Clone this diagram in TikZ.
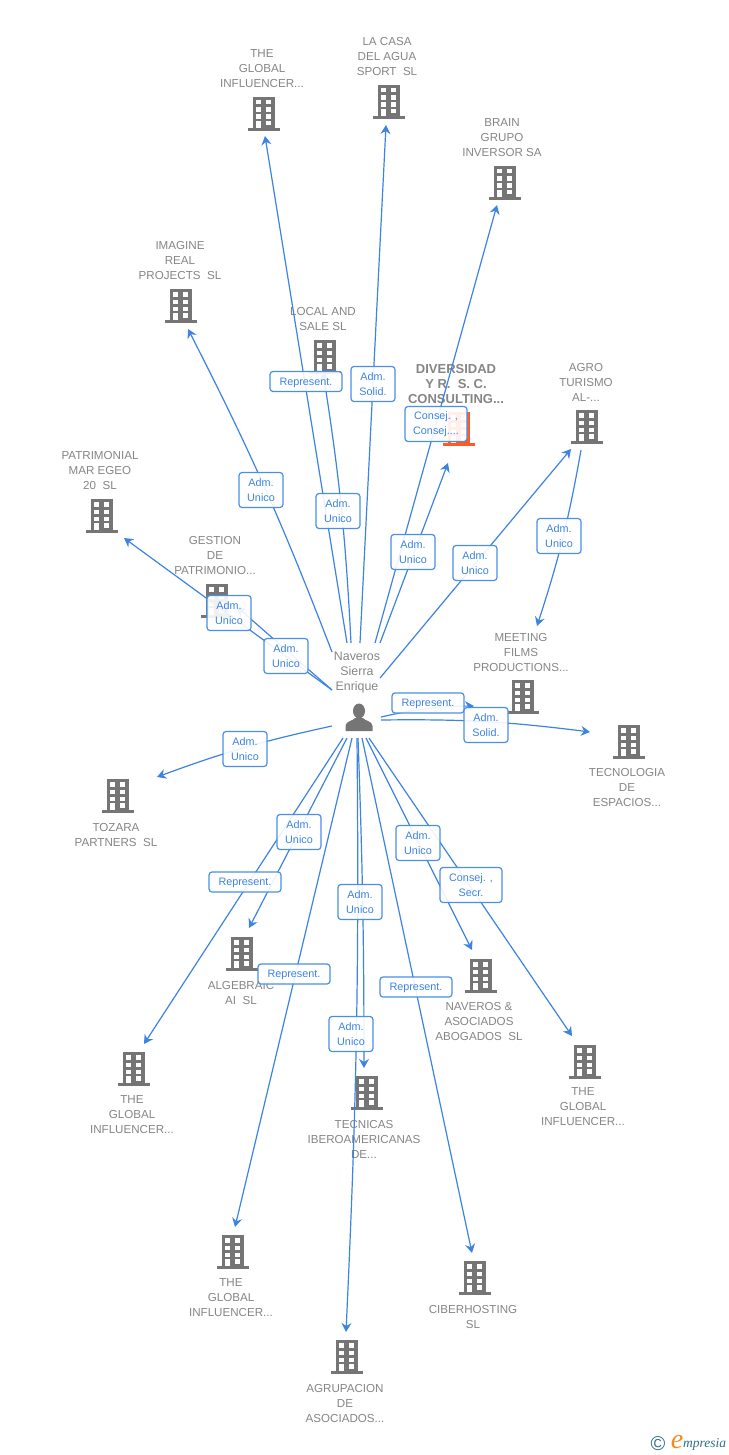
\documentclass[tikz,border=0pt]{standalone}
\usepackage{fontspec}
\setmainfont{Liberation Sans}
\newfontfamily\logofont{Liberation Serif}
\usetikzlibrary{graphs}
\usetikzlibrary{arrows.meta}
\definecolor{bldgrey}{HTML}{757575}
\definecolor{bldorange}{HTML}{FF5A26}
\definecolor{txtgrey}{HTML}{858585}
\definecolor{lnkblue}{HTML}{3C83E2}
\definecolor{boxblue}{HTML}{4A8FE6}
\definecolor{logoteal}{HTML}{2F6F85}
\definecolor{logoorange}{HTML}{F28C1E}
\tikzset{
    lbl/.style={align=center, inner sep=0pt, yshift=-1pt, text=txtgrey, font=\fontsize{11.6}{15}\selectfont},
    lblmain/.style={lbl, font=\fontsize{13}{15}\bfseries\selectfont},
    lblperson/.style={lbl, font=\fontsize{12.4}{15}\selectfont},
    lnk/.style={draw=lnkblue, line width=1.2pt},
    adm/.style={draw=boxblue, line width=1.2pt, rounded corners=3pt, fill=white, fill opacity=0.9,
        text opacity=1, text=lnkblue, align=center, inner sep=0pt, minimum width=44pt, minimum height=35pt,
        font=\fontsize{10.8}{15}\selectfont},
    rep/.style={adm, minimum width=72pt, minimum height=20pt, text depth=0pt},
    cons/.style={adm, minimum width=62pt},
    pics/building/.style={code={
        \fill[#1] (-11,-17) rectangle (11,15);
        \fill[#1] (-16,14) rectangle (16,17);
        \foreach \yy in {-14,-6.5,0.5} {
            \fill[white] (-8,\yy) rectangle (-3,\yy+4.5);
            \fill[white] (2,\yy) rectangle (7,\yy+4.5);
        }
        \fill[white] (-8,7) rectangle (-3,14);
        \fill[white] (2,7) rectangle (7,11.5);
    }},
    pics/person/.style={code={
        \fill[bldgrey] (0,-6) ellipse (6 and 7.5);
        \fill[bldgrey] (-13.5,14) -- (-13.5,9) .. controls (-13.5,4) and (-6,4) .. (-4,1)
            -- (4,1) .. controls (6,4) and (13.5,4) .. (13.5,9) -- (13.5,14) -- cycle;
    }},
}
\begin{document}
\begin{tikzpicture}[x=1pt, y=-1pt, >={Stealth[length=9pt, width=10pt, inset=3pt]}]
    \useasboundingbox (0,0) rectangle (728,1455);

    \pic (ico_gl_top) at (264,114) {building=bldgrey};
    \pic (ico_casa) at (389,102) {building=bldgrey};
    \pic (ico_brain) at (505,183) {building=bldgrey};
    \pic (ico_imag) at (181,306) {building=bldgrey};
    \pic (ico_local) at (325,357) {building=bldgrey};
    \pic (ico_div) at (458.5,429) {building=bldorange};
    \pic (ico_agro) at (587,427) {building=bldgrey};
    \pic (ico_patr) at (102,516) {building=bldgrey};
    \pic (ico_gest) at (217,601) {building=bldgrey};
    \pic (ico_meet) at (523,697) {building=bldgrey};
    \pic (ico_tecno) at (629,742) {building=bldgrey};
    \pic (ico_toz) at (118,796) {building=bldgrey};
    \pic (ico_alg) at (242,954) {building=bldgrey};
    \pic (ico_gl_left) at (134,1069) {building=bldgrey};
    \pic (ico_tec) at (367,1093) {building=bldgrey};
    \pic (ico_nav) at (481,976) {building=bldgrey};
    \pic (ico_gl_right) at (585,1062) {building=bldgrey};
    \pic (ico_gl_bot) at (233,1252) {building=bldgrey};
    \pic (ico_cib) at (475,1278) {building=bldgrey};
    \pic (ico_agrup) at (347,1357) {building=bldgrey};
    \pic (ico_nav_p) at (359,717) {person};

    \node[lbl] (t_gl_top) at (262,68) {THE\\GLOBAL\\INFLUENCER...};
    \node[lbl] (t_casa) at (387,56) {LA CASA\\DEL AGUA\\SPORT\ \ SL};
    \node[lbl] (t_brain) at (502,137) {BRAIN\\GRUPO\\INVERSOR SA};
    \node[lbl] (t_imag) at (180,260) {IMAGINE\\REAL\\PROJECTS\ \ SL};
    \node[lbl] (t_local) at (323,318.5) {LOCAL AND\\SALE SL};
    \node[lblmain] (t_div) at (456,383) {DIVERSIDAD\\Y R.\ \ S. C.\\CONSULTING...};
    \node[lbl] (t_agro) at (586,381) {AGRO\\TURISMO\\AL-...};
    \node[lbl] (t_patr) at (100,470) {PATRIMONIAL\\MAR EGEO\\20\ \ SL};
    \node[lbl] (t_gest) at (215,555) {GESTION\\DE\\PATRIMONIO...};
    \node[lbl] (t_meet) at (521,652) {MEETING\\FILMS\\PRODUCTIONS...};
    \node[lbl] (t_tecno) at (627,786) {TECNOLOGIA\\DE\\ESPACIOS...};
    \node[lbl] (t_toz) at (116,833.5) {TOZARA\\PARTNERS\ \ SL};
    \node[lbl] (t_alg) at (241,991.5) {ALGEBRAIC\\AI\ \ SL};
    \node[lbl] (t_gl_left) at (132,1114) {THE\\GLOBAL\\INFLUENCER...};
    \node[lbl] (t_tec) at (364,1138) {TECNICAS\\IBEROAMERICANAS\\DE...};
    \node[lbl] (t_nav) at (479,1020) {NAVEROS \&\\ASOCIADOS\\ABOGADOS\ \ SL};
    \node[lbl] (t_gl_right) at (583,1106) {THE\\GLOBAL\\INFLUENCER...};
    \node[lbl] (t_gl_bot) at (231,1297) {THE\\GLOBAL\\INFLUENCER...};
    \node[lbl] (t_cib) at (473,1315.5) {CIBERHOSTING\\SL};
    \node[lbl] (t_agrup) at (345,1402) {AGRUPACION\\DE\\ASOCIADOS...};
    \node[lblperson] (t_nav_p) at (357,671.5) {Naveros\\Sierra\\Enrique};

    \coordinate (s_gl_top) at (347,643);
    \coordinate (e_gl_top) at (265,136);
    \coordinate (s_local) at (351,643);
    \coordinate (e_local) at (323,372);
    \coordinate (s_casa) at (360,643);
    \coordinate (e_casa) at (386,125);
    \coordinate (s_brain) at (375,643);
    \coordinate (e_brain) at (497,205);
    \coordinate (s_div) at (380,643);
    \coordinate (e_div) at (448,463);
    \coordinate (s_agro) at (380,678);
    \coordinate (e_agro) at (571,449);
    \coordinate (s_meet_a) at (581,450);
    \coordinate (e_meet_a) at (537,626);
    \coordinate (s_imag) at (332,652);
    \coordinate (e_imag) at (188,329);
    \coordinate (s_patr) at (332,690);
    \coordinate (e_patr) at (124,538);
    \coordinate (e_gest) at (237,607);
    \coordinate (s_meet) at (381,717);
    \coordinate (e_meet) at (474,706);
    \coordinate (s_tecno) at (381,720);
    \coordinate (e_tecno) at (590,732);
    \coordinate (s_toz) at (332,726);
    \coordinate (e_toz) at (157,777);
    \coordinate (s_gl_left) at (343,738);
    \coordinate (e_gl_left) at (144,1044);
    \coordinate (s_alg) at (347,738);
    \coordinate (e_alg) at (249,928);
    \coordinate (s_gl_bot) at (352,738);
    \coordinate (e_gl_bot) at (235,1227);
    \coordinate (s_agrup) at (357,738);
    \coordinate (e_agrup) at (346,1332);
    \coordinate (s_tec) at (358,738);
    \coordinate (e_tec) at (364,1068);
    \coordinate (s_cib) at (362,738);
    \coordinate (e_cib) at (472,1253);
    \coordinate (s_nav) at (366,738);
    \coordinate (e_nav) at (472,950);
    \coordinate (s_gl_right) at (369,738);
    \coordinate (e_gl_right) at (572,1036);

    \graph {(s_gl_top) ->[lnk] (e_gl_top)};
    \graph {(s_local) ->[lnk, bend right=3] (e_local)};
    \graph {(s_casa) ->[lnk] (e_casa)};
    \graph {(s_brain) ->[lnk] (e_brain)};
    \graph {(s_div) ->[lnk] (e_div)};
    \graph {(s_agro) ->[lnk] (e_agro)};
    \graph {(s_meet_a) ->[lnk, bend left=4] (e_meet_a)};
    \graph {(s_imag) ->[lnk, bend right=3] (e_imag)};
    \graph {(s_patr) ->[lnk] (e_patr)};
    \graph {(s_patr) ->[lnk] (e_gest)};
    \graph {(s_meet) ->[lnk, bend left=6] (e_meet)};
    \graph {(s_tecno) ->[lnk, bend left=4] (e_tecno)};
    \graph {(s_toz) ->[lnk, bend right=4] (e_toz)};
    \graph {(s_gl_left) ->[lnk] (e_gl_left)};
    \graph {(s_alg) ->[lnk] (e_alg)};
    \graph {(s_gl_bot) ->[lnk] (e_gl_bot)};
    \graph {(s_agrup) ->[lnk, bend left=1.6] (e_agrup)};
    \graph {(s_tec) ->[lnk, bend left=1] (e_tec)};
    \graph {(s_cib) ->[lnk] (e_cib)};
    \graph {(s_nav) ->[lnk] (e_nav)};
    \graph {(s_gl_right) ->[lnk] (e_gl_right)};

    \node[rep] (b_gl_top) at (306,381.5) {Represent.};
    \node[adm] (b_casa) at (373,384) {Adm.\\Solid.};
    \node[cons] (b_brain) at (436,424) {Consej. ,\\Consej....};
    \node[adm] (b_imag) at (261,490) {Adm.\\Unico};
    \node[adm] (b_local) at (338,511) {Adm.\\Unico};
    \node[adm] (b_div) at (413,552) {Adm.\\Unico};
    \node[adm] (b_agro) at (475,563) {Adm.\\Unico};
    \node[adm] (b_meet_a) at (559,536) {Adm.\\Unico};
    \node[adm] (b_patr) at (229,613) {Adm.\\Unico};
    \node[adm] (b_gest) at (286,656) {Adm.\\Unico};
    \node[rep] (b_meet) at (428,703) {Represent.};
    \node[adm] (b_tecno) at (486,725) {Adm.\\Solid.};
    \node[adm] (b_toz) at (245,749) {Adm.\\Unico};
    \node[adm] (b_alg) at (299,832) {Adm.\\Unico};
    \node[rep] (b_gl_left) at (245,882) {Represent.};
    \node[adm] (b_tec) at (360,902) {Adm.\\Unico};
    \node[adm] (b_nav) at (418,843) {Adm.\\Unico};
    \node[cons] (b_gl_right) at (471,885) {Consej. ,\\Secr.};
    \node[rep] (b_gl_bot) at (294,974) {Represent.};
    \node[rep] (b_cib) at (416,987) {Represent.};
    \node[adm] (b_agrup) at (351,1034) {Adm.\\Unico};

    \node[text=logoteal, inner sep=0pt, font=\fontsize{20}{20}\selectfont] (logo_c) at (658,1444) {©};
    \node[text=logoorange, inner sep=0pt, font=\logofont\itshape\fontsize{28}{28}\selectfont] (logo_e) at (677,1442) {e};
    \node[text=logoteal, inner sep=0pt, anchor=west, font=\logofont\itshape\fontsize{13.5}{14}\selectfont] (logo_t) at (683,1444) {mpresia};
\end{tikzpicture}
\end{document}
